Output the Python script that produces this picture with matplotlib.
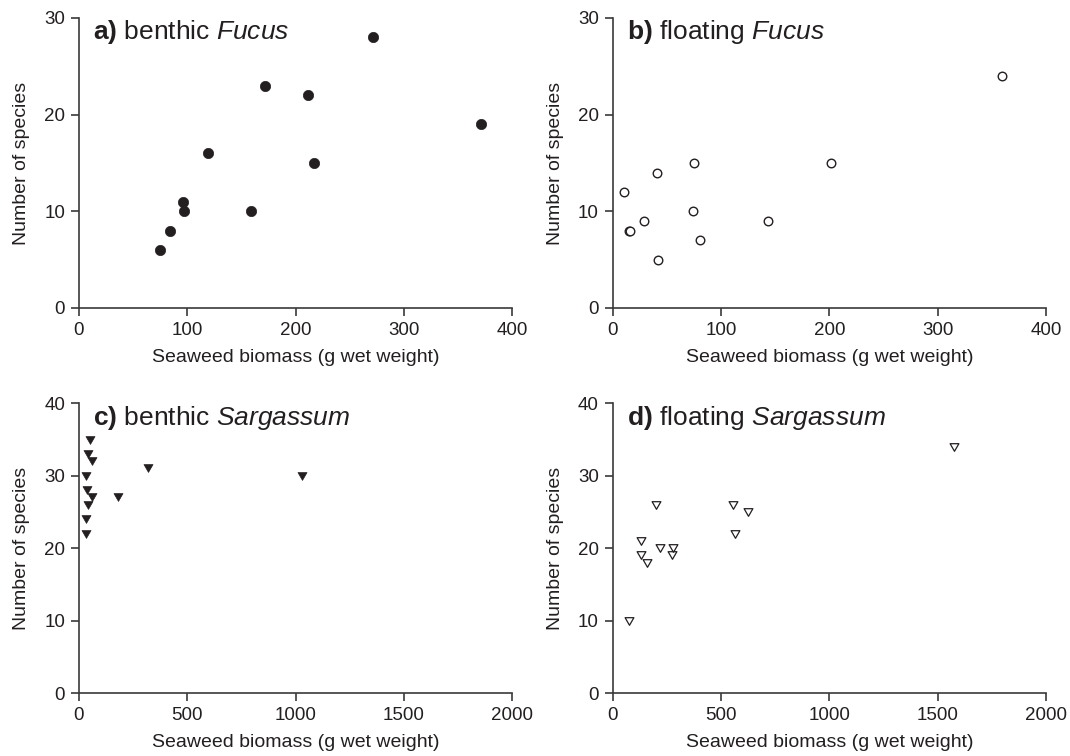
import matplotlib
matplotlib.use("Agg")
import matplotlib.pyplot as plt
from matplotlib.path import Path

plt.rcParams['font.family'] = ['Liberation Sans', 'DejaVu Sans']
plt.rcParams['mathtext.fontset'] = 'custom'
plt.rcParams['mathtext.rm'] = 'Liberation Sans'
plt.rcParams['mathtext.it'] = 'Liberation Sans:italic'
plt.rcParams['mathtext.bf'] = 'Liberation Sans:bold'

INK = '#231f20'

# ---- data ----
a_biomass = [74.8, 83.8, 95.7, 96.7, 119, 159, 172, 211, 217, 271, 371]
a_species = [6, 8, 11, 10, 16, 10, 23, 22, 15, 28, 19]

b_biomass = [10.5, 15, 16, 29, 41, 42, 74, 75, 81, 143, 201, 359]
b_species = [12, 8, 8, 9, 14, 5, 10, 15, 7, 9, 15, 24]

c_biomass = [51, 43, 59, 320, 33, 1029, 36, 62, 179, 41, 31, 33]
c_species = [35, 33, 32, 31, 30, 30, 28, 27, 27, 26, 24, 22]

d_biomass = [77, 130, 130, 160, 198, 216, 275, 278, 557, 566, 622, 1574]
d_species = [10, 21, 19, 18, 26, 20, 19, 20, 26, 22, 25, 34]

fucus_xticks = [0, 100, 200, 300, 400]
fucus_yticks = [0, 10, 20, 30]
sarg_xticks = [0, 500, 1000, 1500, 2000]
sarg_yticks = [0, 10, 20, 30, 40]

titles = [r"$\mathbf{a)}$ benthic $\mathit{Fucus}$",
          r"$\mathbf{b)}$ floating $\mathit{Fucus}$",
          r"$\mathbf{c)}$ benthic $\mathit{Sargassum}$",
          r"$\mathbf{d)}$ floating $\mathit{Sargassum}$"]

xlabel = "Seaweed biomass (g wet weight)"
ylabel = "Number of species"

tri = Path([(-1, 0.866), (1, 0.866), (0, -0.866), (-1, 0.866)],
           [Path.MOVETO, Path.LINETO, Path.LINETO, Path.CLOSEPOLY])

fig = plt.figure(figsize=(10.7, 7.56), dpi=100)
W, H = 1070, 756
def add_ax(left, top, right, bottom):
    return fig.add_axes([left / W, 1 - bottom / H, (right - left) / W, (bottom - top) / H])

ax_a = add_ax(78.9, 18, 512.4, 308)
ax_b = add_ax(612.7, 18, 1046.2, 308)
ax_c = add_ax(78.9, 403.3, 512.4, 693)
ax_d = add_ax(612.7, 403.3, 1046.2, 693)

ax_a.scatter(a_biomass, a_species, s=55, marker='o', facecolor=INK, edgecolor=INK,
             linewidths=0.5, clip_on=False, zorder=3)
ax_b.scatter(b_biomass, b_species, s=38, marker='o', facecolor='white', edgecolor=INK,
             linewidths=1.0, clip_on=False, zorder=3)
ax_c.scatter(c_biomass, c_species, s=42, marker=tri, facecolor=INK, edgecolor=INK,
             linewidths=0.5, clip_on=False, zorder=3)
ax_d.scatter(d_biomass, d_species, s=40, marker=tri, facecolor='white', edgecolor=INK,
             linewidths=0.9, clip_on=False, zorder=3)

for ax, xt, yt, title in [(ax_a, fucus_xticks, fucus_yticks, titles[0]),
                          (ax_b, fucus_xticks, fucus_yticks, titles[1]),
                          (ax_c, sarg_xticks, sarg_yticks, titles[2]),
                          (ax_d, sarg_xticks, sarg_yticks, titles[3])]:
    ax.set_xlim(xt[0], xt[-1])
    ax.set_ylim(yt[0], yt[-1])
    ax.set_xticks(xt)
    ax.set_yticks(yt)
    for s in ['top', 'right']:
        ax.spines[s].set_visible(False)
    for s in ['left', 'bottom']:
        ax.spines[s].set_linewidth(1.2)
        ax.spines[s].set_color('#3a3a3a')
    ax.tick_params(direction='out', length=6, width=1.2, color='#3a3a3a',
                   labelsize=13.5, labelcolor=INK, pad=4)
    ax.set_xlabel(xlabel, fontsize=14, color=INK, labelpad=7)
    ax.set_ylabel(ylabel, fontsize=14, color=INK, labelpad=10)
    ax.text(0.033, 0.926, title, transform=ax.transAxes, fontsize=19,
            color=INK, ha='left', va='baseline')

fig.savefig("out.png", dpi=100)
